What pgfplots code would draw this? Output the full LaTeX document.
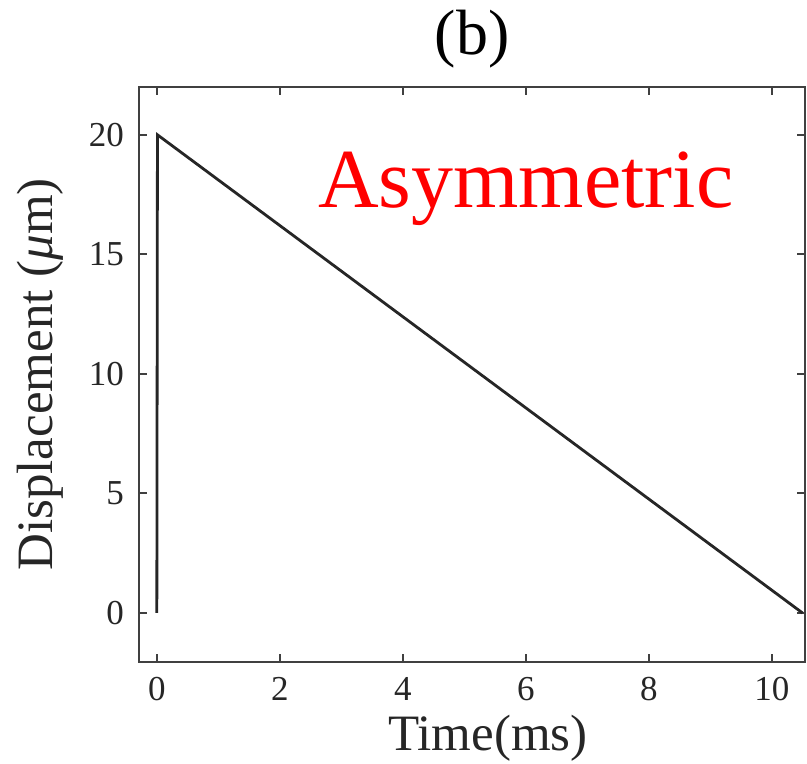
\documentclass[border=0pt]{standalone}
\usepackage{pgfplots}
\pgfplotsset{compat=1.18}
\usepackage{fontspec}
\setmainfont{Liberation Serif}
\begin{document}
\begin{tikzpicture}
\begin{axis}[
  width=333pt,
  height=287.5pt,
  scale only axis,
  xmin=-0.29, xmax=10.54,
  ymin=-2.05, ymax=22.0,
  xtick={0,2,4,6,8,10},
  ytick={0,5,10,15,20},
  tick align=inside,
  major tick length=4pt,
  axis line style={draw=black!75, line width=1pt},
  tick style={draw=black!75, line width=1pt},
  /pgf/number format/assume math mode=true,
  ticklabel style={font=\fontsize{17.5}{20}\selectfont, text=black!85},
  xticklabel style={yshift=-4pt},
  yticklabel style={xshift=-4pt},
  xlabel={Time(ms)},
  ylabel={Displacement (\textit{μ}m)},
  label style={font=\fontsize{25.5}{28}\selectfont, text=black!85},
  xlabel style={yshift=-0.5pt, xshift=8pt},
  ylabel style={yshift=6pt},
  title={(b)},
  title style={font=\fontsize{32}{36}\selectfont, yshift=0pt},
  clip=false,
]
\addplot[black!85, line width=1.4pt] coordinates {
  (0,0) (0.01,20) (10.5,0)
};
\node[anchor=base, text=red, font=\fontsize{42}{46}\selectfont] at (axis cs:6,16.95) {Asymmetric};
\coordinate (sw) at (rel axis cs:0,0);
\coordinate (ne) at (rel axis cs:1,1);
\end{axis}
\pgfresetboundingbox
\useasboundingbox ([shift={(-69.5pt,-51pt)}]sw) rectangle ([shift={(1pt,43.5pt)}]ne);
\end{tikzpicture}
\end{document}
